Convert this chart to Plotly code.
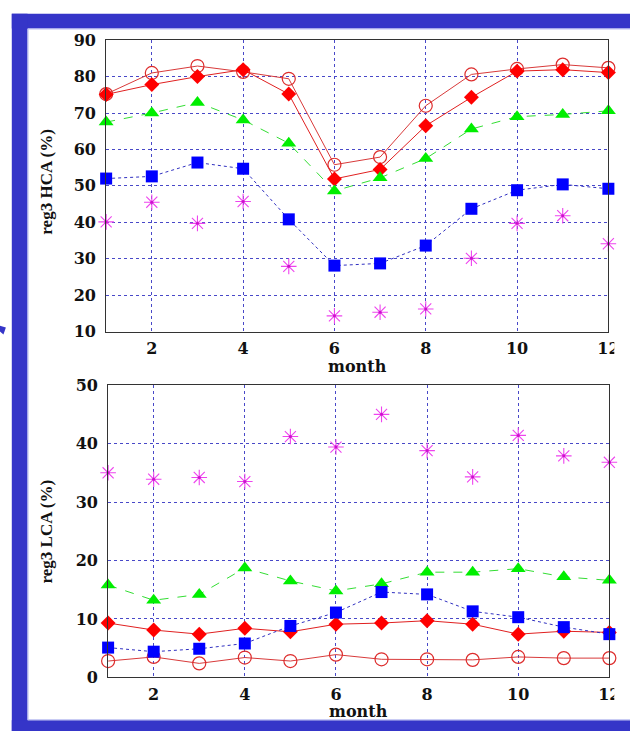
import plotly.graph_objects as go

# Monthly cloud amounts for region 3 (percent)
months = list(range(1, 13))

hca_circle = [75.2, 81.0, 82.9, 81.3, 79.4, 55.8, 57.9, 72.0, 80.6, 82.1, 83.3, 82.4]
hca_diamond = [75.1, 77.8, 80.0, 81.9, 75.2, 51.9, 54.5, 66.5, 74.3, 81.5, 81.9, 81.1]
hca_triangle = [67.5, 70.0, 72.9, 68.1, 61.7, 48.6, 52.2, 57.5, 65.6, 69.0, 69.6, 70.6]
hca_square = [52.0, 52.6, 56.4, 54.7, 40.8, 28.1, 28.7, 33.6, 43.7, 48.8, 50.4, 49.2]
hca_star = [40.1, 45.5, 39.7, 45.7, 27.9, 14.3, 15.3, 16.2, 30.1, 39.7, 41.8, 34.1]

lca_circle = [2.8, 3.5, 2.4, 3.4, 2.8, 3.9, 3.1, 3.1, 3.0, 3.5, 3.3, 3.3]
lca_diamond = [9.3, 8.1, 7.4, 8.4, 7.8, 9.1, 9.3, 9.7, 9.1, 7.4, 7.9, 7.7]
lca_triangle = [15.8, 13.2, 14.2, 18.7, 16.5, 14.8, 16.0, 18.0, 18.0, 18.6, 17.2, 16.6]
lca_square = [5.1, 4.4, 4.9, 5.8, 8.8, 11.1, 14.6, 14.2, 11.3, 10.3, 8.6, 7.4]
lca_star = [35.0, 33.9, 34.2, 33.5, 41.2, 39.4, 45.0, 38.8, 34.3, 41.4, 37.9, 36.8]

W, H = 641, 741


def px(x):
    return x / W


def py(y):
    return 1 - y / H


fig = go.Figure()


def add_panel(xa, ya, circ, diam, tri, sq, star):
    common = dict(x=months, xaxis=xa, yaxis=ya, showlegend=False, cliponaxis=False)
    fig.add_trace(go.Scatter(y=circ, mode="lines+markers",
                             line=dict(color="#d83a3a", width=1),
                             marker=dict(symbol="circle-open", size=13, color="#dd2c2c",
                                         line=dict(color="#dd2c2c", width=1.2)),
                             **common))
    fig.add_trace(go.Scatter(y=diam, mode="lines+markers",
                             line=dict(color="#e02020", width=1),
                             marker=dict(symbol="diamond", size=11.5, color="#ff0000"),
                             **common))
    fig.add_trace(go.Scatter(y=tri, mode="lines+markers",
                             line=dict(color="#33dd33", width=1, dash="dash"),
                             marker=dict(symbol="triangle-up", size=13, color="#00ee00"),
                             **common))
    fig.add_trace(go.Scatter(y=sq, mode="lines+markers",
                             line=dict(color="#3030c0", width=1, dash="dot"),
                             marker=dict(symbol="square", size=12, color="#0000ff"),
                             **common))
    fig.add_trace(go.Scatter(y=star, mode="markers",
                             marker=dict(symbol="asterisk-open", size=13, color="#ee44ee",
                                         line=dict(color="#ee44ee", width=1.1)),
                             **common))
    fig.add_trace(go.Scatter(y=star, mode="markers",
                             marker=dict(symbol="circle", size=3, color="#cc11cc"),
                             **common))


add_panel("x", "y", hca_circle, hca_diamond, hca_triangle, hca_square, hca_star)
add_panel("x2", "y2", lca_circle, lca_diamond, lca_triangle, lca_square, lca_star)

tick_font = dict(family="DejaVu Serif", size=16, color="#111111", weight="bold")
grid = dict(showgrid=True, gridcolor="#4848c8", gridwidth=1, griddash="dot",
            showline=True, linecolor="#333333", linewidth=1, mirror=True,
            zeroline=False, ticks="", tickfont=tick_font)

fig.update_layout(
    width=W, height=H,
    margin=dict(l=0, r=0, t=0, b=0),
    paper_bgcolor="white", plot_bgcolor="white",
    xaxis=dict(domain=[px(108), px(619)], anchor="y", range=[1, 12],
               tick0=0, dtick=2, ticklabelstandoff=2, **grid),
    yaxis=dict(domain=[py(331), py(32)], anchor="x", range=[10, 90],
               tick0=0, dtick=10, ticklabelstandoff=6, **grid),
    xaxis2=dict(domain=[px(110), px(620)], anchor="y2", range=[1, 12],
                tick0=0, dtick=2, ticklabelstandoff=2, **grid),
    yaxis2=dict(domain=[py(686), py(386)], anchor="x2", range=[0, 50],
                tick0=0, dtick=10, ticklabelstandoff=6, **grid),
)

title_font = dict(family="Liberation Serif", size=17, color="#111111", weight="bold")
label_font = dict(family="DejaVu Serif", size=16, color="#111111", weight="bold")
fig.add_annotation(text="reg3 HCA (%)", textangle=-90, xref="paper", yref="paper",
                   x=px(47), y=py(178), xanchor="center", yanchor="middle",
                   showarrow=False, font=title_font)
fig.add_annotation(text="reg3 LCA (%)", textangle=-90, xref="paper", yref="paper",
                   x=px(47), y=py(536), xanchor="center", yanchor="middle",
                   showarrow=False, font=title_font)
fig.add_annotation(text="month", xref="paper", yref="paper",
                   x=px(364), y=py(367), xanchor="center", yanchor="middle",
                   showarrow=False, font=label_font)
fig.add_annotation(text="month", xref="paper", yref="paper",
                   x=px(365), y=py(721), xanchor="center", yanchor="middle",
                   showarrow=False, font=label_font)

# Slide frame around the two panels
frame = "#3535c8"
bands = [
    (12, 5, W, 20),     # top band
    (12, 5, 28, H),     # left band
    (12, 730, W, H),    # bottom band
]
for x0, y0, x1, y1 in bands:
    fig.add_shape(type="rect", xref="paper", yref="paper",
                  x0=px(x0), x1=px(x1), y0=py(y1), y1=py(y0),
                  fillcolor=frame, line=dict(width=0), layer="below")
# thin light edge along the inside of the frame
fig.add_shape(type="path", xref="paper", yref="paper",
              path=f"M {px(W)},{py(20.5)} L {px(28.5)},{py(20.5)} L {px(28.5)},{py(729.5)} L {px(W)},{py(729.5)}",
              line=dict(color="#b4b8f0", width=1), layer="below")
# small pointer mark at the left edge
fig.add_shape(type="path", xref="paper", yref="paper",
              path=f"M {px(0)},{py(325)} L {px(6)},{py(327)} L {px(3.5)},{py(334)} L {px(0)},{py(331)} Z",
              fillcolor=frame, line=dict(width=0), layer="above")
# the slide crops the right-hand edge of the last month label
for y0, y1 in [(336, 358), (692, 714)]:
    fig.add_shape(type="rect", xref="paper", yref="paper",
                  x0=px(625), x1=px(W), y0=py(y1), y1=py(y0),
                  fillcolor="white", line=dict(width=0), layer="above")

fig.write_html("out.html")
